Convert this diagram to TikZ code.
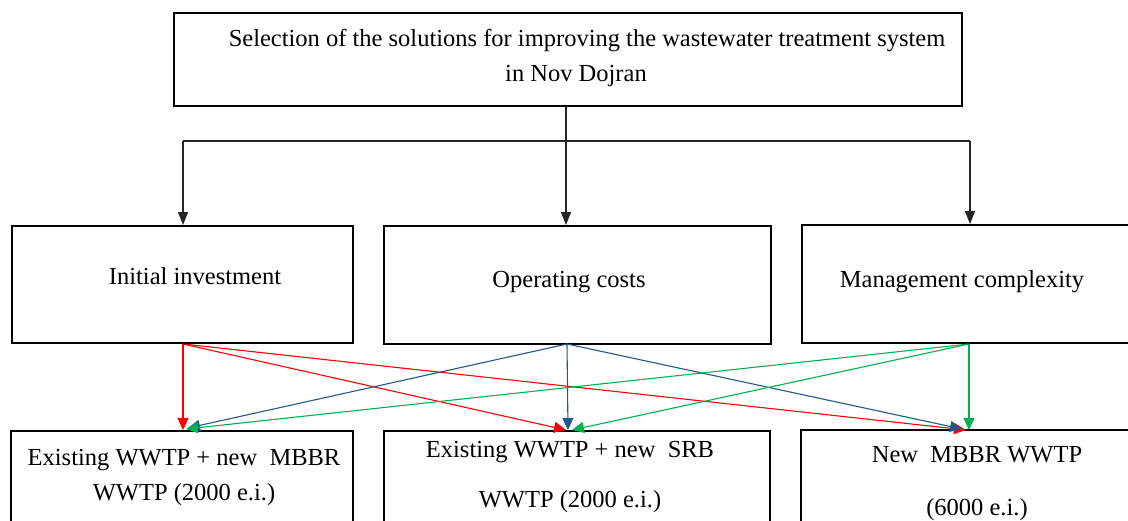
\documentclass[tikz,border=0pt]{standalone}
\usepackage{fontspec}
\setmainfont{Liberation Serif}
\usetikzlibrary{arrows.meta}

\definecolor{costred}{RGB}{255,0,0}
\definecolor{costblue}{RGB}{34,88,138}
\definecolor{costgreen}{RGB}{0,176,80}

\tikzset{
  box/.style={draw=black, line width=1.9pt, rectangle, inner sep=0pt},
  label/.style={anchor=base, inner sep=0pt, font=\fontsize{24.5}{28}\selectfont},
  tree/.style={draw=black!85, line width=1.1pt},
  treearrow/.style={tree, -{Triangle[length=13pt,width=10pt]}},
  link/.style={line width=1.1pt, -{Triangle[length=12pt,width=11pt]}},
}

\begin{document}
\begin{tikzpicture}[x=1pt,y=-1pt]
\useasboundingbox (0,0) rectangle (1128,521);
\clip (0,0) rectangle (1128,521);
\fill[white] (0,0) rectangle (1128,521);

% goal
\node[box, minimum width=788pt, minimum height=93pt] (goal) at (568,59.5) {};
\node[label] (goal1) at (587,47) {Selection of the solutions for improving the wastewater treatment system};
\node[label] (goal2) at (576,82) {in Nov Dojran};

% criteria
\node[box, minimum width=341pt, minimum height=117pt] (c1) at (182.5,284.5) {};
\node[box, minimum width=387pt, minimum height=118pt] (c2) at (577.5,285) {};
\node[box, minimum width=338pt, minimum height=118pt] (c3) at (971,284) {};
\node[label] (c1t) at (195,285) {Initial investment};
\node[label] (c2t) at (569,288) {Operating costs};
\node[label] (c3t) at (962,288) {Management complexity};

% alternatives
\node[box, minimum width=342pt, minimum height=109pt] (a1) at (182,485.5) {};
\node[box, minimum width=386pt, minimum height=109pt] (a2) at (577,485.5) {};
\node[box, minimum width=339pt, minimum height=110pt] (a3) at (970.5,485) {};
\node[label] (a1t1) at (184,465) {Existing WWTP + new\ \ MBBR};
\node[label] (a1t2) at (184,500) {WWTP (2000 e.i.)};
\node[label] (a2t1) at (570,457) {Existing WWTP + new\ \ SRB};
\node[label] (a2t2) at (570,507) {WWTP (2000 e.i.)};
\node[label] (a3t1) at (977,462) {New\ \ MBBR WWTP};
\node[label] (a3t2) at (977,515) {(6000 e.i.)};

% branching tree from the goal to the criteria
\coordinate (spine) at (566,141);
\coordinate (hubL) at (183,141);
\coordinate (hubR) at (970,141);
\draw[treearrow] (goal.south -| spine) -- (c2.north -| spine);
\draw[tree] (hubL) -- (hubR);
\draw[treearrow] (hubL) -- (c1.north -| hubL);
\draw[treearrow] (hubR) -- (c3.north -| hubR);

% ports on the criteria (bottom) and alternatives (top)
\coordinate (rOut) at (183,344);
\coordinate (bOut) at (567,344);
\coordinate (gOut) at (969,344);

\coordinate (a1r) at (183,430);
\coordinate (a1b) at (188,428);
\coordinate (a1g) at (186,429);
\coordinate (a2r) at (566,430);
\coordinate (a2b) at (568,430);
\coordinate (a2g) at (572,430);
\coordinate (a3r) at (966,430);
\coordinate (a3b) at (962,429);
\coordinate (a3g) at (969,430);

% initial investment links
\draw[link, costred] (rOut) -- (a1r);
\draw[link, costred] (rOut) -- (a2r);
\draw[link, costred] (rOut) -- (a3r);
% operating cost links
\draw[link, costblue] (bOut) -- (a1b);
\draw[link, costblue] (bOut) -- (a2b);
\draw[link, costblue] (bOut) -- (a3b);
% management complexity links
\draw[link, costgreen] (gOut) -- (a1g);
\draw[link, costgreen] (gOut) -- (a2g);
\draw[link, costgreen] (gOut) -- (a3g);
\end{tikzpicture}
\end{document}
